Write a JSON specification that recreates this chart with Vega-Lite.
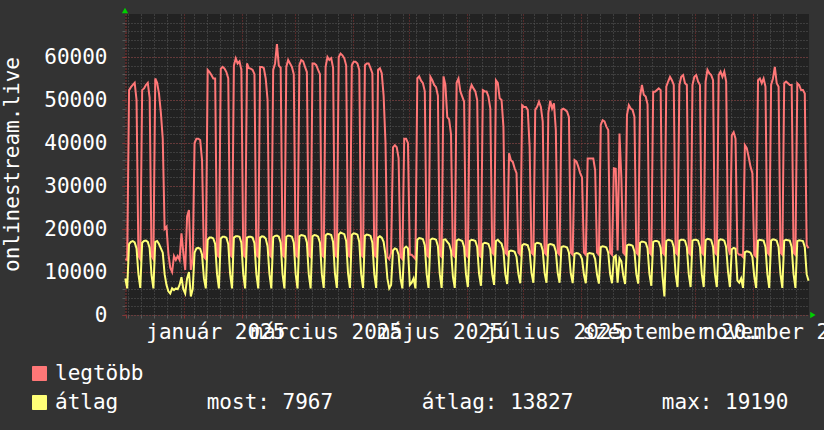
{
"$schema": "https://vega.github.io/schema/vega-lite/v6.json",
"width": 684, "height": 301,
"autosize": {"type": "none"},
"padding": {"left": 125, "top": 14, "right": 15, "bottom": 115},
"background": "#333333",
"config": {"view": {"fill": "#222222", "stroke": null}, "font": "DejaVu Sans Mono"},
"data": {"values": [
{"t":"2024-11-30T12:00Z","m":13000,"a":8500},{"t":"2024-12-01T12:00Z","m":12800,"a":6200},
{"t":"2024-12-02T12:00Z","m":52300,"a":16500},{"t":"2024-12-03T12:00Z","m":53000,"a":17000},{"t":"2024-12-04T12:00Z","m":53500,"a":17200},{"t":"2024-12-05T12:00Z","m":54000,"a":16900},{"t":"2024-12-06T12:00Z","m":50000,"a":15500},{"t":"2024-12-07T12:00Z","m":13800,"a":9500},{"t":"2024-12-08T12:00Z","m":13000,"a":6300},
{"t":"2024-12-09T12:00Z","m":52300,"a":16800},{"t":"2024-12-10T12:00Z","m":52700,"a":17200},{"t":"2024-12-11T12:00Z","m":53500,"a":17300},{"t":"2024-12-12T12:00Z","m":54000,"a":17000},{"t":"2024-12-13T12:00Z","m":50500,"a":15600},{"t":"2024-12-14T12:00Z","m":13800,"a":9300},{"t":"2024-12-15T12:00Z","m":13000,"a":6200},
{"t":"2024-12-16T12:00Z","m":55000,"a":17000},{"t":"2024-12-17T12:00Z","m":54000,"a":17200},{"t":"2024-12-18T12:00Z","m":51500,"a":16500},{"t":"2024-12-19T12:00Z","m":47000,"a":15500},{"t":"2024-12-20T12:00Z","m":41000,"a":14500},{"t":"2024-12-21T12:00Z","m":20000,"a":9500},{"t":"2024-12-22T12:00Z","m":20500,"a":7000},
{"t":"2024-12-23T12:00Z","m":14300,"a":5500},{"t":"2024-12-24T12:00Z","m":11000,"a":5000},{"t":"2024-12-25T12:00Z","m":10000,"a":6200},{"t":"2024-12-26T12:00Z","m":13700,"a":5800},{"t":"2024-12-27T12:00Z","m":12800,"a":6200},{"t":"2024-12-28T12:00Z","m":13700,"a":6000},{"t":"2024-12-29T12:00Z","m":12800,"a":7000},
{"t":"2024-12-30T12:00Z","m":19000,"a":8800},{"t":"2024-12-31T12:00Z","m":14400,"a":6000},{"t":"2025-01-01T12:00Z","m":10500,"a":5000},{"t":"2025-01-02T12:00Z","m":22900,"a":8500},{"t":"2025-01-03T12:00Z","m":24400,"a":10000},{"t":"2025-01-04T12:00Z","m":10500,"a":4300},{"t":"2025-01-05T12:00Z","m":13000,"a":6000},
{"t":"2025-01-06T12:00Z","m":40000,"a":14500},{"t":"2025-01-07T12:00Z","m":41000,"a":15500},{"t":"2025-01-08T12:00Z","m":41000,"a":15600},{"t":"2025-01-09T12:00Z","m":40700,"a":15400},{"t":"2025-01-10T12:00Z","m":36000,"a":14000},{"t":"2025-01-11T12:00Z","m":13500,"a":8500},{"t":"2025-01-12T12:00Z","m":13000,"a":6200},
{"t":"2025-01-13T12:00Z","m":57000,"a":17500},{"t":"2025-01-14T12:00Z","m":56500,"a":18000},{"t":"2025-01-15T12:00Z","m":55800,"a":18000},{"t":"2025-01-16T12:00Z","m":55000,"a":17800},{"t":"2025-01-17T12:00Z","m":55000,"a":16500},{"t":"2025-01-18T12:00Z","m":14000,"a":9500},{"t":"2025-01-19T12:00Z","m":13500,"a":6200},
{"t":"2025-01-20T12:00Z","m":57300,"a":17800},{"t":"2025-01-21T12:00Z","m":57700,"a":18200},{"t":"2025-01-22T12:00Z","m":57300,"a":18200},{"t":"2025-01-23T12:00Z","m":56500,"a":18000},{"t":"2025-01-24T12:00Z","m":55000,"a":16500},{"t":"2025-01-25T12:00Z","m":14000,"a":9500},{"t":"2025-01-26T12:00Z","m":13500,"a":6200},
{"t":"2025-01-27T12:00Z","m":58000,"a":18000},{"t":"2025-01-28T12:00Z","m":59700,"a":18300},{"t":"2025-01-29T12:00Z","m":58500,"a":18300},{"t":"2025-01-30T12:00Z","m":59000,"a":18200},{"t":"2025-01-31T12:00Z","m":57000,"a":16800},{"t":"2025-02-01T12:00Z","m":14000,"a":9500},{"t":"2025-02-02T12:00Z","m":13500,"a":6200},
{"t":"2025-02-03T12:00Z","m":58500,"a":18000},{"t":"2025-02-04T12:00Z","m":57400,"a":18200},{"t":"2025-02-05T12:00Z","m":57300,"a":18200},{"t":"2025-02-06T12:00Z","m":57000,"a":18000},{"t":"2025-02-07T12:00Z","m":56000,"a":16700},{"t":"2025-02-08T12:00Z","m":14000,"a":9500},{"t":"2025-02-09T12:00Z","m":13500,"a":6200},
{"t":"2025-02-10T12:00Z","m":57700,"a":18000},{"t":"2025-02-11T12:00Z","m":57700,"a":18300},{"t":"2025-02-12T12:00Z","m":57400,"a":18200},{"t":"2025-02-13T12:00Z","m":55000,"a":17800},{"t":"2025-02-14T12:00Z","m":50000,"a":16000},{"t":"2025-02-15T12:00Z","m":14000,"a":9500},{"t":"2025-02-16T12:00Z","m":13500,"a":6200},
{"t":"2025-02-17T12:00Z","m":57000,"a":18100},{"t":"2025-02-18T12:00Z","m":58500,"a":18400},{"t":"2025-02-19T12:00Z","m":63000,"a":18500},{"t":"2025-02-20T12:00Z","m":58000,"a":18200},{"t":"2025-02-21T12:00Z","m":57500,"a":16800},{"t":"2025-02-22T12:00Z","m":14000,"a":9500},{"t":"2025-02-23T12:00Z","m":13500,"a":6200},
{"t":"2025-02-24T12:00Z","m":57700,"a":18200},{"t":"2025-02-25T12:00Z","m":59300,"a":18500},{"t":"2025-02-26T12:00Z","m":58500,"a":18400},{"t":"2025-02-27T12:00Z","m":57700,"a":18200},{"t":"2025-02-28T12:00Z","m":56000,"a":16800},{"t":"2025-03-01T12:00Z","m":14000,"a":9500},{"t":"2025-03-02T12:00Z","m":13500,"a":6200},
{"t":"2025-03-03T12:00Z","m":58100,"a":18300},{"t":"2025-03-04T12:00Z","m":59300,"a":18600},{"t":"2025-03-05T12:00Z","m":59000,"a":18500},{"t":"2025-03-06T12:00Z","m":57700,"a":18300},{"t":"2025-03-07T12:00Z","m":56500,"a":16900},{"t":"2025-03-08T12:00Z","m":14000,"a":9500},{"t":"2025-03-09T12:00Z","m":13500,"a":6200},
{"t":"2025-03-10T12:00Z","m":58500,"a":18300},{"t":"2025-03-11T12:00Z","m":58500,"a":18600},{"t":"2025-03-12T12:00Z","m":58100,"a":18500},{"t":"2025-03-13T12:00Z","m":57000,"a":18200},{"t":"2025-03-14T12:00Z","m":56000,"a":16800},{"t":"2025-03-15T12:00Z","m":14000,"a":9500},{"t":"2025-03-16T12:00Z","m":13500,"a":6300},
{"t":"2025-03-17T12:00Z","m":57700,"a":18500},{"t":"2025-03-18T12:00Z","m":60000,"a":18900},{"t":"2025-03-19T12:00Z","m":59300,"a":18800},{"t":"2025-03-20T12:00Z","m":59700,"a":18600},{"t":"2025-03-21T12:00Z","m":57500,"a":17000},{"t":"2025-03-22T12:00Z","m":14000,"a":9600},{"t":"2025-03-23T12:00Z","m":13500,"a":6300},
{"t":"2025-03-24T12:00Z","m":60000,"a":18700},{"t":"2025-03-25T12:00Z","m":60800,"a":19190},{"t":"2025-03-26T12:00Z","m":60400,"a":19000},{"t":"2025-03-27T12:00Z","m":59700,"a":18800},{"t":"2025-03-28T12:00Z","m":58000,"a":17200},{"t":"2025-03-29T12:00Z","m":14000,"a":9600},{"t":"2025-03-30T12:00Z","m":13500,"a":6300},
{"t":"2025-03-31T12:00Z","m":58100,"a":18600},{"t":"2025-04-01T12:00Z","m":58900,"a":19000},{"t":"2025-04-02T12:00Z","m":58900,"a":18900},{"t":"2025-04-03T12:00Z","m":58500,"a":18700},{"t":"2025-04-04T12:00Z","m":57000,"a":17000},{"t":"2025-04-05T12:00Z","m":14000,"a":9500},{"t":"2025-04-06T12:00Z","m":13500,"a":6300},
{"t":"2025-04-07T12:00Z","m":58100,"a":18400},{"t":"2025-04-08T12:00Z","m":58500,"a":18700},{"t":"2025-04-09T12:00Z","m":58500,"a":18600},{"t":"2025-04-10T12:00Z","m":57400,"a":18400},{"t":"2025-04-11T12:00Z","m":56200,"a":16800},{"t":"2025-04-12T12:00Z","m":14000,"a":9500},{"t":"2025-04-13T12:00Z","m":13500,"a":6300},
{"t":"2025-04-14T12:00Z","m":57000,"a":18000},{"t":"2025-04-15T12:00Z","m":57400,"a":18300},{"t":"2025-04-16T12:00Z","m":56200,"a":18000},{"t":"2025-04-17T12:00Z","m":51000,"a":17000},{"t":"2025-04-18T12:00Z","m":40000,"a":14000},{"t":"2025-04-19T12:00Z","m":13500,"a":8500},{"t":"2025-04-20T12:00Z","m":13000,"a":6200},
{"t":"2025-04-21T12:00Z","m":14500,"a":7000},{"t":"2025-04-22T12:00Z","m":39000,"a":15000},{"t":"2025-04-23T12:00Z","m":39500,"a":15500},{"t":"2025-04-24T12:00Z","m":39000,"a":15300},{"t":"2025-04-25T12:00Z","m":36500,"a":14000},{"t":"2025-04-26T12:00Z","m":13500,"a":8500},{"t":"2025-04-27T12:00Z","m":13000,"a":6200},
{"t":"2025-04-28T12:00Z","m":41000,"a":15500},{"t":"2025-04-29T12:00Z","m":41000,"a":15900},{"t":"2025-04-30T12:00Z","m":40000,"a":15500},{"t":"2025-05-01T12:00Z","m":14000,"a":7000},{"t":"2025-05-02T12:00Z","m":14000,"a":7500},{"t":"2025-05-03T12:00Z","m":13500,"a":8500},{"t":"2025-05-04T12:00Z","m":13000,"a":6200},
{"t":"2025-05-05T12:00Z","m":55000,"a":17500},{"t":"2025-05-06T12:00Z","m":55500,"a":17900},{"t":"2025-05-07T12:00Z","m":54500,"a":17800},{"t":"2025-05-08T12:00Z","m":53900,"a":17600},{"t":"2025-05-09T12:00Z","m":52000,"a":16200},{"t":"2025-05-10T12:00Z","m":14000,"a":9500},{"t":"2025-05-11T12:00Z","m":13500,"a":6300},
{"t":"2025-05-12T12:00Z","m":55400,"a":17500},{"t":"2025-05-13T12:00Z","m":54600,"a":17800},{"t":"2025-05-14T12:00Z","m":53500,"a":17700},{"t":"2025-05-15T12:00Z","m":53000,"a":17500},{"t":"2025-05-16T12:00Z","m":51000,"a":16000},{"t":"2025-05-17T12:00Z","m":14000,"a":9500},{"t":"2025-05-18T12:00Z","m":13500,"a":6300},
{"t":"2025-05-19T12:00Z","m":55500,"a":17500},{"t":"2025-05-20T12:00Z","m":53500,"a":17600},{"t":"2025-05-21T12:00Z","m":46000,"a":17000},{"t":"2025-05-22T12:00Z","m":45500,"a":16500},{"t":"2025-05-23T12:00Z","m":42000,"a":15000},{"t":"2025-05-24T12:00Z","m":14000,"a":9000},{"t":"2025-05-25T12:00Z","m":13500,"a":6300},
{"t":"2025-05-26T12:00Z","m":54000,"a":17300},{"t":"2025-05-27T12:00Z","m":55000,"a":17600},{"t":"2025-05-28T12:00Z","m":52000,"a":17400},{"t":"2025-05-29T12:00Z","m":50800,"a":17200},{"t":"2025-05-30T12:00Z","m":49600,"a":15800},{"t":"2025-05-31T12:00Z","m":14000,"a":9500},{"t":"2025-06-01T12:00Z","m":13500,"a":6500},
{"t":"2025-06-02T12:00Z","m":52000,"a":17200},{"t":"2025-06-03T12:00Z","m":53500,"a":17500},{"t":"2025-06-04T12:00Z","m":52700,"a":17400},{"t":"2025-06-05T12:00Z","m":52000,"a":17200},{"t":"2025-06-06T12:00Z","m":50000,"a":15800},{"t":"2025-06-07T12:00Z","m":14000,"a":9500},{"t":"2025-06-08T12:00Z","m":13500,"a":6800},
{"t":"2025-06-09T12:00Z","m":52300,"a":16500},{"t":"2025-06-10T12:00Z","m":52000,"a":16800},{"t":"2025-06-11T12:00Z","m":52000,"a":16700},{"t":"2025-06-12T12:00Z","m":50800,"a":16500},{"t":"2025-06-13T12:00Z","m":48000,"a":15200},{"t":"2025-06-14T12:00Z","m":14500,"a":9500},{"t":"2025-06-15T12:00Z","m":14000,"a":7000},
{"t":"2025-06-16T12:00Z","m":54600,"a":17200},{"t":"2025-06-17T12:00Z","m":54000,"a":17500},{"t":"2025-06-18T12:00Z","m":50400,"a":17000},{"t":"2025-06-19T12:00Z","m":50000,"a":16600},{"t":"2025-06-20T12:00Z","m":43800,"a":15000},{"t":"2025-06-21T12:00Z","m":14500,"a":9500},{"t":"2025-06-22T12:00Z","m":14000,"a":7200},
{"t":"2025-06-23T12:00Z","m":37600,"a":14800},{"t":"2025-06-24T12:00Z","m":36000,"a":15000},{"t":"2025-06-25T12:00Z","m":35600,"a":14900},{"t":"2025-06-26T12:00Z","m":34100,"a":14700},{"t":"2025-06-27T12:00Z","m":33000,"a":13500},{"t":"2025-06-28T12:00Z","m":14500,"a":9500},{"t":"2025-06-29T12:00Z","m":14000,"a":7400},
{"t":"2025-06-30T12:00Z","m":48800,"a":16200},{"t":"2025-07-01T12:00Z","m":48400,"a":16500},{"t":"2025-07-02T12:00Z","m":48400,"a":16400},{"t":"2025-07-03T12:00Z","m":47700,"a":16200},{"t":"2025-07-04T12:00Z","m":39100,"a":14800},{"t":"2025-07-05T12:00Z","m":14500,"a":9800},{"t":"2025-07-06T12:00Z","m":14000,"a":7500},
{"t":"2025-07-07T12:00Z","m":47700,"a":16500},{"t":"2025-07-08T12:00Z","m":48400,"a":16800},{"t":"2025-07-09T12:00Z","m":49600,"a":16700},{"t":"2025-07-10T12:00Z","m":48400,"a":16500},{"t":"2025-07-11T12:00Z","m":45000,"a":15000},{"t":"2025-07-12T12:00Z","m":14500,"a":9800},{"t":"2025-07-13T12:00Z","m":14000,"a":7500},
{"t":"2025-07-14T12:00Z","m":47000,"a":16300},{"t":"2025-07-15T12:00Z","m":49800,"a":16500},{"t":"2025-07-16T12:00Z","m":48000,"a":16400},{"t":"2025-07-17T12:00Z","m":49200,"a":16200},{"t":"2025-07-18T12:00Z","m":43000,"a":14800},{"t":"2025-07-19T12:00Z","m":14500,"a":9800},{"t":"2025-07-20T12:00Z","m":14000,"a":7500},
{"t":"2025-07-21T12:00Z","m":47700,"a":15800},{"t":"2025-07-22T12:00Z","m":48000,"a":16000},{"t":"2025-07-23T12:00Z","m":47700,"a":15900},{"t":"2025-07-24T12:00Z","m":47300,"a":15700},{"t":"2025-07-25T12:00Z","m":46000,"a":14500},{"t":"2025-07-26T12:00Z","m":14500,"a":9600},{"t":"2025-07-27T12:00Z","m":14000,"a":7400},
{"t":"2025-07-28T12:00Z","m":36000,"a":14200},{"t":"2025-07-29T12:00Z","m":35700,"a":14400},{"t":"2025-07-30T12:00Z","m":34500,"a":14300},{"t":"2025-07-31T12:00Z","m":33000,"a":14000},{"t":"2025-08-01T12:00Z","m":32000,"a":13000},{"t":"2025-08-02T12:00Z","m":14500,"a":9400},{"t":"2025-08-03T12:00Z","m":14000,"a":7400},
{"t":"2025-08-04T12:00Z","m":36400,"a":14200},{"t":"2025-08-05T12:00Z","m":36400,"a":14400},{"t":"2025-08-06T12:00Z","m":36400,"a":14300},{"t":"2025-08-07T12:00Z","m":36400,"a":14200},{"t":"2025-08-08T12:00Z","m":33700,"a":13000},{"t":"2025-08-09T12:00Z","m":14500,"a":9400},{"t":"2025-08-10T12:00Z","m":14000,"a":7300},
{"t":"2025-08-11T12:00Z","m":44200,"a":15800},{"t":"2025-08-12T12:00Z","m":45300,"a":16000},{"t":"2025-08-13T12:00Z","m":45000,"a":15900},{"t":"2025-08-14T12:00Z","m":43800,"a":15700},{"t":"2025-08-15T12:00Z","m":43000,"a":14500},{"t":"2025-08-16T12:00Z","m":14500,"a":9500},{"t":"2025-08-17T12:00Z","m":14000,"a":7400},
{"t":"2025-08-18T12:00Z","m":34100,"a":13500},{"t":"2025-08-19T12:00Z","m":34000,"a":13800},{"t":"2025-08-20T12:00Z","m":15000,"a":7500},{"t":"2025-08-21T12:00Z","m":42200,"a":13200},{"t":"2025-08-22T12:00Z","m":32000,"a":12500},{"t":"2025-08-23T12:00Z","m":14500,"a":9200},{"t":"2025-08-24T12:00Z","m":14000,"a":7200},
{"t":"2025-08-25T12:00Z","m":46500,"a":16200},{"t":"2025-08-26T12:00Z","m":48800,"a":16400},{"t":"2025-08-27T12:00Z","m":48000,"a":16300},{"t":"2025-08-28T12:00Z","m":47700,"a":16100},{"t":"2025-08-29T12:00Z","m":46100,"a":14800},{"t":"2025-08-30T12:00Z","m":14500,"a":9500},{"t":"2025-08-31T12:00Z","m":14000,"a":7300},
{"t":"2025-09-01T12:00Z","m":50800,"a":16800},{"t":"2025-09-02T12:00Z","m":53500,"a":17100},{"t":"2025-09-03T12:00Z","m":51200,"a":17000},{"t":"2025-09-04T12:00Z","m":50800,"a":16800},{"t":"2025-09-05T12:00Z","m":49000,"a":15500},{"t":"2025-09-06T12:00Z","m":14500,"a":9500},{"t":"2025-09-07T12:00Z","m":14000,"a":6800},
{"t":"2025-09-08T12:00Z","m":51900,"a":17000},{"t":"2025-09-09T12:00Z","m":51900,"a":17200},{"t":"2025-09-10T12:00Z","m":52300,"a":17200},{"t":"2025-09-11T12:00Z","m":52700,"a":17000},{"t":"2025-09-12T12:00Z","m":52300,"a":15600},{"t":"2025-09-13T12:00Z","m":14500,"a":9000},{"t":"2025-09-14T12:00Z","m":14000,"a":4300},
{"t":"2025-09-15T12:00Z","m":53100,"a":17200},{"t":"2025-09-16T12:00Z","m":54300,"a":17500},{"t":"2025-09-17T12:00Z","m":55400,"a":17400},{"t":"2025-09-18T12:00Z","m":54600,"a":17200},{"t":"2025-09-19T12:00Z","m":53500,"a":15800},{"t":"2025-09-20T12:00Z","m":14500,"a":9500},{"t":"2025-09-21T12:00Z","m":14000,"a":6500},
{"t":"2025-09-22T12:00Z","m":53500,"a":17300},{"t":"2025-09-23T12:00Z","m":55400,"a":17500},{"t":"2025-09-24T12:00Z","m":55800,"a":17500},{"t":"2025-09-25T12:00Z","m":53900,"a":17300},{"t":"2025-09-26T12:00Z","m":53500,"a":15800},{"t":"2025-09-27T12:00Z","m":14500,"a":9500},{"t":"2025-09-28T12:00Z","m":14000,"a":6500},
{"t":"2025-09-29T12:00Z","m":53500,"a":17300},{"t":"2025-09-30T12:00Z","m":55400,"a":17500},{"t":"2025-10-01T12:00Z","m":55800,"a":17500},{"t":"2025-10-02T12:00Z","m":54300,"a":17300},{"t":"2025-10-03T12:00Z","m":53500,"a":15800},{"t":"2025-10-04T12:00Z","m":14500,"a":9500},{"t":"2025-10-05T12:00Z","m":14000,"a":6500},
{"t":"2025-10-06T12:00Z","m":54300,"a":17400},{"t":"2025-10-07T12:00Z","m":57000,"a":17700},{"t":"2025-10-08T12:00Z","m":56200,"a":17600},{"t":"2025-10-09T12:00Z","m":55800,"a":17400},{"t":"2025-10-10T12:00Z","m":54600,"a":15900},{"t":"2025-10-11T12:00Z","m":14500,"a":9500},{"t":"2025-10-12T12:00Z","m":14000,"a":6500},
{"t":"2025-10-13T12:00Z","m":55800,"a":17300},{"t":"2025-10-14T12:00Z","m":56600,"a":17600},{"t":"2025-10-15T12:00Z","m":55400,"a":17500},{"t":"2025-10-16T12:00Z","m":56600,"a":17300},{"t":"2025-10-17T12:00Z","m":54300,"a":15800},{"t":"2025-10-18T12:00Z","m":16000,"a":10000},{"t":"2025-10-19T12:00Z","m":14000,"a":6500},
{"t":"2025-10-20T12:00Z","m":41800,"a":15300},{"t":"2025-10-21T12:00Z","m":42500,"a":15600},{"t":"2025-10-22T12:00Z","m":41000,"a":15400},{"t":"2025-10-23T12:00Z","m":14500,"a":8000},{"t":"2025-10-24T12:00Z","m":14000,"a":7500},{"t":"2025-10-25T12:00Z","m":14000,"a":8500},{"t":"2025-10-26T12:00Z","m":13500,"a":6300},
{"t":"2025-10-27T12:00Z","m":39500,"a":14600},{"t":"2025-10-28T12:00Z","m":38800,"a":14800},{"t":"2025-10-29T12:00Z","m":36800,"a":14700},{"t":"2025-10-30T12:00Z","m":34500,"a":14500},{"t":"2025-10-31T12:00Z","m":33000,"a":13500},{"t":"2025-11-01T12:00Z","m":14000,"a":9000},{"t":"2025-11-02T12:00Z","m":13500,"a":6300},
{"t":"2025-11-03T12:00Z","m":54600,"a":17300},{"t":"2025-11-04T12:00Z","m":55000,"a":17500},{"t":"2025-11-05T12:00Z","m":53900,"a":17400},{"t":"2025-11-06T12:00Z","m":55000,"a":17300},{"t":"2025-11-07T12:00Z","m":53100,"a":15800},{"t":"2025-11-08T12:00Z","m":14500,"a":9500},{"t":"2025-11-09T12:00Z","m":14000,"a":6300},
{"t":"2025-11-10T12:00Z","m":53500,"a":17300},{"t":"2025-11-11T12:00Z","m":55000,"a":17600},{"t":"2025-11-12T12:00Z","m":57700,"a":17500},{"t":"2025-11-13T12:00Z","m":53900,"a":17300},{"t":"2025-11-14T12:00Z","m":53100,"a":15800},{"t":"2025-11-15T12:00Z","m":14500,"a":9500},{"t":"2025-11-16T12:00Z","m":14000,"a":6300},
{"t":"2025-11-17T12:00Z","m":53900,"a":17300},{"t":"2025-11-18T12:00Z","m":54300,"a":17500},{"t":"2025-11-19T12:00Z","m":53900,"a":17400},{"t":"2025-11-20T12:00Z","m":53500,"a":17300},{"t":"2025-11-21T12:00Z","m":53500,"a":15800},{"t":"2025-11-22T12:00Z","m":14500,"a":9500},{"t":"2025-11-23T12:00Z","m":14000,"a":6300},
{"t":"2025-11-24T12:00Z","m":53900,"a":17200},{"t":"2025-11-25T12:00Z","m":53500,"a":17400},{"t":"2025-11-26T12:00Z","m":52300,"a":17300},{"t":"2025-11-27T12:00Z","m":52300,"a":17200},{"t":"2025-11-28T12:00Z","m":51500,"a":15800},{"t":"2025-11-29T12:00Z","m":16300,"a":9500},{"t":"2025-11-30T12:00Z","m":15500,"a":7967}
]},
"layer": [
{
"mark": {"type": "line", "strokeWidth": 2, "interpolate": "linear"},
"encoding": {
"x": {"field": "t", "type": "temporal",
 "scale": {"type": "utc", "domain": [{"year":2024,"month":11,"date":30,"hours":8,"utc":true},{"year":2025,"month":11,"date":30,"hours":18,"utc":true}]},
 "axis": {"orient": "bottom", "title": null, "labels": false, "domain": false, "ticks": true, "tickSize": 3, "tickColor": "#5a5a5a", "grid": true, "gridColor": "#5a5a5a", "gridDash": [1,2], "gridWidth": 1,
 "values": [{"year":2024,"month":12,"date":2,"utc":true},{"year":2024,"month":12,"date":9,"utc":true},{"year":2024,"month":12,"date":16,"utc":true},{"year":2024,"month":12,"date":23,"utc":true},{"year":2024,"month":12,"date":30,"utc":true},{"year":2025,"month":1,"date":6,"utc":true},{"year":2025,"month":1,"date":13,"utc":true},{"year":2025,"month":1,"date":20,"utc":true},{"year":2025,"month":1,"date":27,"utc":true},{"year":2025,"month":2,"date":3,"utc":true},{"year":2025,"month":2,"date":10,"utc":true},{"year":2025,"month":2,"date":17,"utc":true},{"year":2025,"month":2,"date":24,"utc":true},{"year":2025,"month":3,"date":3,"utc":true},{"year":2025,"month":3,"date":10,"utc":true},{"year":2025,"month":3,"date":17,"utc":true},{"year":2025,"month":3,"date":24,"utc":true},{"year":2025,"month":3,"date":31,"utc":true},{"year":2025,"month":4,"date":7,"utc":true},{"year":2025,"month":4,"date":14,"utc":true},{"year":2025,"month":4,"date":21,"utc":true},{"year":2025,"month":4,"date":28,"utc":true},{"year":2025,"month":5,"date":5,"utc":true},{"year":2025,"month":5,"date":12,"utc":true},{"year":2025,"month":5,"date":19,"utc":true},{"year":2025,"month":5,"date":26,"utc":true},{"year":2025,"month":6,"date":2,"utc":true},{"year":2025,"month":6,"date":9,"utc":true},{"year":2025,"month":6,"date":16,"utc":true},{"year":2025,"month":6,"date":23,"utc":true},{"year":2025,"month":6,"date":30,"utc":true},{"year":2025,"month":7,"date":7,"utc":true},{"year":2025,"month":7,"date":14,"utc":true},{"year":2025,"month":7,"date":21,"utc":true},{"year":2025,"month":7,"date":28,"utc":true},{"year":2025,"month":8,"date":4,"utc":true},{"year":2025,"month":8,"date":11,"utc":true},{"year":2025,"month":8,"date":18,"utc":true},{"year":2025,"month":8,"date":25,"utc":true},{"year":2025,"month":9,"date":1,"utc":true},{"year":2025,"month":9,"date":8,"utc":true},{"year":2025,"month":9,"date":15,"utc":true},{"year":2025,"month":9,"date":22,"utc":true},{"year":2025,"month":9,"date":29,"utc":true},{"year":2025,"month":10,"date":6,"utc":true},{"year":2025,"month":10,"date":13,"utc":true},{"year":2025,"month":10,"date":20,"utc":true},{"year":2025,"month":10,"date":27,"utc":true},{"year":2025,"month":11,"date":3,"utc":true},{"year":2025,"month":11,"date":10,"utc":true},{"year":2025,"month":11,"date":17,"utc":true},{"year":2025,"month":11,"date":24,"utc":true}]}},
"y": {"field": "m", "type": "quantitative", "scale": {"domain": [0, 70000], "nice": false, "zero": true},
 "axis": {"orient": "left", "title": null, "labels": false, "domain": false, "ticks": true, "tickSize": 3, "tickColor": "#5a5a5a", "grid": true, "gridColor": "#5a5a5a", "gridDash": [1,2], "gridWidth": 1,
 "values": [0,2000,4000,6000,8000,10000,12000,14000,16000,18000,20000,22000,24000,26000,28000,30000,32000,34000,36000,38000,40000,42000,44000,46000,48000,50000,52000,54000,56000,58000,60000,62000,64000,66000,68000]}},
"color": {"datum": "legtöbb", "type": "nominal",
 "scale": {"domain": ["legtöbb", "átlag"], "range": ["#ff7777", "#ffff77"]},
 "legend": {"orient": "none", "legendX": -96, "legendY": 349, "direction": "vertical", "title": null, "symbolType": "square", "symbolSize": 196, "labelFont": "DejaVu Sans Mono", "labelFontSize": 21, "labelColor": "#ffffff", "labelOffset": 5, "labelLimit": 1000, "rowPadding": 7, "padding": 0,
 "labelExpr": "datum.label == 'átlag' ? 'átlag\u00a0\u00a0\u00a0\u00a0\u00a0\u00a0\u00a0most: 7967\u00a0\u00a0\u00a0\u00a0\u00a0\u00a0\u00a0átlag: 13827\u00a0\u00a0\u00a0\u00a0\u00a0\u00a0\u00a0max: 19190' : datum.label",
 "encode": {"symbols": {"update": {"fill": {"scale": "color", "field": "value"}, "stroke": {"value": "#000000"}, "strokeWidth": {"value": 1}, "opacity": {"value": 1}}}}}}
}
},
{
"mark": {"type": "line", "strokeWidth": 2, "interpolate": "linear"},
"encoding": {
"x": {"field": "t", "type": "temporal",
 "scale": {"type": "utc", "domain": [{"year":2024,"month":11,"date":30,"hours":8,"utc":true},{"year":2025,"month":11,"date":30,"hours":18,"utc":true}]},
 "axis": {"orient": "bottom", "title": null, "domain": false, "ticks": true, "tickSize": 3, "tickColor": "#8a3434", "grid": true, "gridColor": "#8a3434", "gridDash": [1,2], "gridWidth": 1,
 "labelOverlap": false, "labelFlush": false, "labelBound": false, "labelOffset": 31, "labelAlign": "center", "labelBaseline": "alphabetic", "labelPadding": 20,
 "labelFont": "DejaVu Sans Mono", "labelFontSize": 21, "labelColor": "#ffffff",
 "labelExpr": "utcmonth(datum.value) % 2 == 0 ? ['január','február','március','április','május','június','július','augusztus','szeptember','október','november','december'][utcmonth(datum.value)] + ' ' + utcyear(datum.value) : ''",
 "values": [{"year":2024,"month":12,"date":1,"utc":true},{"year":2025,"month":1,"date":1,"utc":true},{"year":2025,"month":2,"date":1,"utc":true},{"year":2025,"month":3,"date":1,"utc":true},{"year":2025,"month":4,"date":1,"utc":true},{"year":2025,"month":5,"date":1,"utc":true},{"year":2025,"month":6,"date":1,"utc":true},{"year":2025,"month":7,"date":1,"utc":true},{"year":2025,"month":8,"date":1,"utc":true},{"year":2025,"month":9,"date":1,"utc":true},{"year":2025,"month":10,"date":1,"utc":true},{"year":2025,"month":11,"date":1,"utc":true}]}},
"y": {"field": "a", "type": "quantitative", "scale": {"domain": [0, 70000], "nice": false, "zero": true},
 "axis": {"orient": "left", "title": "onlinestream.live", "titleFont": "DejaVu Sans Mono", "titleFontSize": 21, "titleFontWeight": "normal", "titleColor": "#ffffff", "titleAngle": 270, "titleX": -107, "titleY": 150, "titleAlign": "center", "titleBaseline": "alphabetic",
 "domain": true, "domainColor": "#8a3434", "domainDash": [1,2], "ticks": true, "tickSize": 3, "tickColor": "#8a3434", "grid": true, "gridColor": "#8a3434", "gridDash": [1,2], "gridWidth": 1,
 "labelFont": "DejaVu Sans Mono", "labelFontSize": 21, "labelColor": "#ffffff", "labelPadding": 15, "labelBaseline": "middle", "format": "d",
 "values": [0,10000,20000,30000,40000,50000,60000]}},
"color": {"datum": "átlag", "type": "nominal"}
}
},
{
"data": {"values": [{"t": "2024-11-30T08:00Z", "v": 70800}]},
"mark": {"type": "point", "shape": "triangle-up", "filled": true, "color": "#00d000", "opacity": 1, "size": 40},
"encoding": {"x": {"field": "t", "type": "temporal", "axis": null}, "y": {"field": "v", "type": "quantitative", "axis": null}}
},
{
"data": {"values": [{"t": "2025-12-02T20:00Z", "v": 0}]},
"mark": {"type": "point", "shape": "triangle-right", "filled": true, "color": "#00d000", "opacity": 1, "size": 40},
"encoding": {"x": {"field": "t", "type": "temporal", "axis": null}, "y": {"field": "v", "type": "quantitative", "axis": null}}
}
],
"resolve": {"axis": {"x": "independent", "y": "independent"}}
}
